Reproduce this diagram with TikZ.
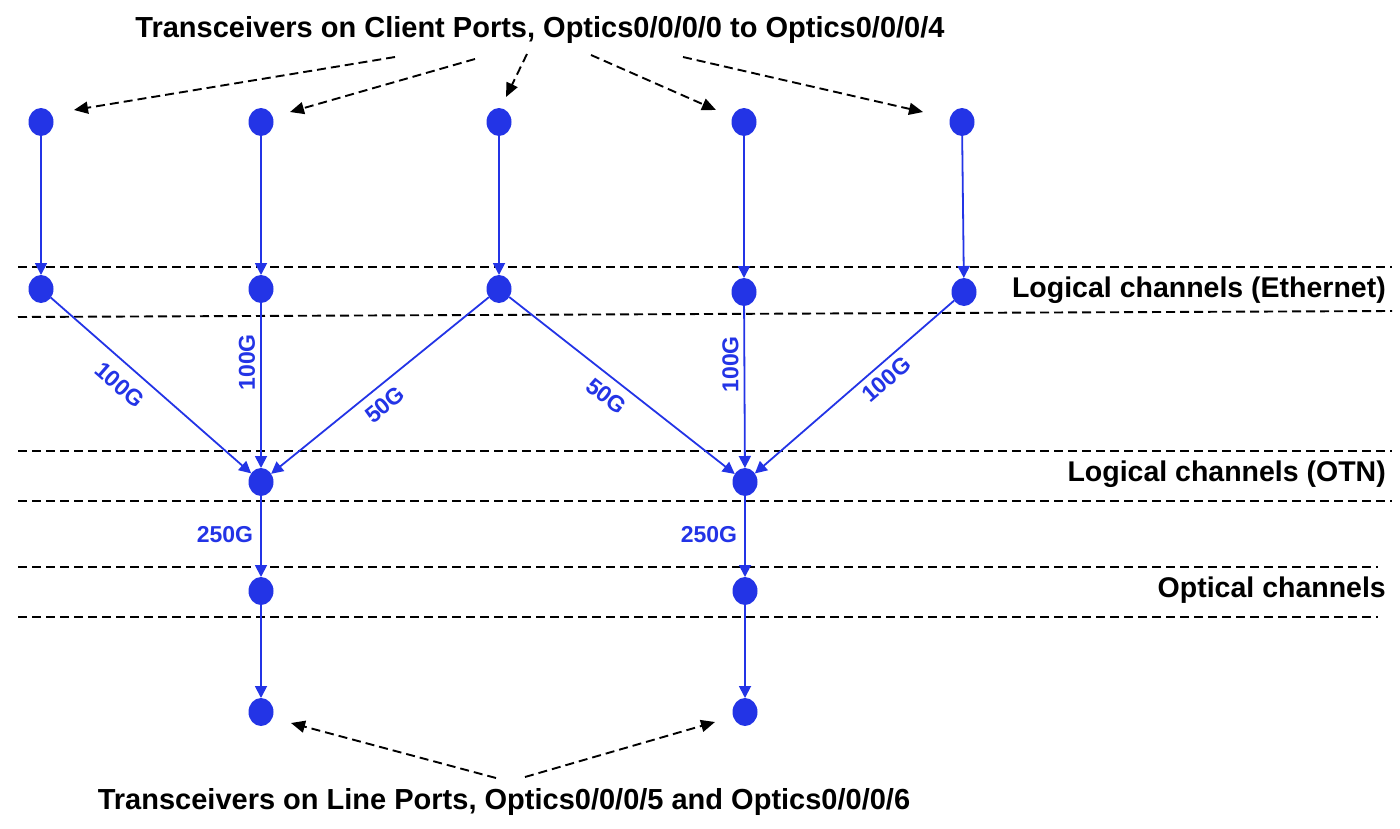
\documentclass[tikz,border=0pt]{standalone}
\usepackage{fontspec}
\setmainfont{Liberation Sans}
\usetikzlibrary{arrows.meta,shapes.geometric}
\definecolor{nblue}{RGB}{35,52,230}
\tikzset{
  dot/.style={ellipse, fill=nblue, minimum width=25pt, minimum height=28pt, inner sep=0pt, outer sep=0pt},
  flow/.style={draw=nblue, line width=1.8pt, -{Triangle[length=12pt,width=12pt]}},
  pointer/.style={draw=black, line width=1.9pt, dash pattern=on 9pt off 5pt, -{Triangle[length=14pt,width=12pt]}},
  layer/.style={draw=black, line width=1.9pt, dash pattern=on 9pt off 5pt},
  rate/.style={text=nblue, font=\bfseries\fontsize{23}{23}\selectfont, inner sep=3pt},
  title/.style={font=\bfseries\fontsize{29}{29}\selectfont, inner sep=0pt},
  layername/.style={font=\bfseries\fontsize{28.5}{28.5}\selectfont, inner sep=0pt, anchor=east}
}
\begin{document}
\begin{tikzpicture}[x=1pt, y=-1pt]
\useasboundingbox (0,0) rectangle (1400,828);
% layer separators
\draw[layer] (18,267) -- (1392,267);
\draw[layer] (18,317) -- (1392,311);
\draw[layer] (18,451) -- (1392,451);
\draw[layer] (18,501) -- (1392,501);
\draw[layer] (18,567) -- (1378,567);
\draw[layer] (18,617) -- (1378,617);
% layer names
\node[layername] (lEth) at (1386,290) {Logical channels (Ethernet)};
\node[layername] (lOTN) at (1386,474) {Logical channels (OTN)};
\node[layername] (lOpt) at (1386,590) {Optical channels};
% titles
\node[title] (tTop) at (540,30) {Transceivers on Client Ports, Optics0/0/0/0 to Optics0/0/0/4};
\node[title] (tBot) at (504,802) {Transceivers on Line Ports, Optics0/0/0/5 and Optics0/0/0/6};
% nodes
\node[dot] (c1) at (41,122) {};
\node[dot] (c2) at (261,122) {};
\node[dot] (c3) at (499,122) {};
\node[dot] (c4) at (744,122) {};
\node[dot] (c5) at (962,122) {};
\node[dot] (e1) at (41,289) {};
\node[dot] (e2) at (261,289) {};
\node[dot] (e3) at (499,289) {};
\node[dot] (e4) at (744,292) {};
\node[dot] (e5) at (964,292) {};
\node[dot] (o1) at (261,482) {};
\node[dot] (o2) at (745,482) {};
\node[dot] (p1) at (261,591) {};
\node[dot] (p2) at (745,591) {};
\node[dot] (l1) at (261,712) {};
\node[dot] (l2) at (745,712) {};
% client to ethernet
\draw[flow] (c1) -- (e1);
\draw[flow] (c2) -- (e2);
\draw[flow] (c3) -- (e3);
\draw[flow] (c4) -- (e4);
\draw[flow] (c5) -- (e5);
% ethernet to OTN
\draw[flow] (e1) -- node[rate, sloped, below, pos=0.41, outer sep=9pt] (r1) {100G} (o1);
\draw[flow] (e2) -- node[rate, rotate=90, anchor=south, pos=0.36, inner sep=5pt] (r2) {100G} (o1);
\draw[flow] (e3) -- node[rate, sloped, below, pos=0.53, outer sep=7pt] (r3) {50G} (o1);
\draw[flow] (e3) -- node[rate, sloped, below, pos=0.48, outer sep=7pt] (r4) {50G} (o2);
\draw[flow] (e4) -- node[rate, rotate=90, anchor=south, pos=0.36, inner sep=5pt] (r5) {100G} (o2);
\draw[flow] (e5) -- node[rate, sloped, below, pos=0.39, outer sep=4pt] (r6) {100G} (o2);
% OTN to optical
\draw[flow] (o1) -- node[rate, left, pos=0.48, inner sep=7pt] (r7) {250G} (p1);
\draw[flow] (o2) -- node[rate, left, pos=0.48, inner sep=7pt] (r8) {250G} (p2);
% optical to line
\draw[flow] (p1) -- (l1);
\draw[flow] (p2) -- (l2);
% annotation pointers
\coordinate (a1s) at (395,57);
\coordinate (a1e) at (74,110);
\coordinate (a2s) at (475,59);
\coordinate (a2e) at (290,112);
\coordinate (a3s) at (527,54);
\coordinate (a3e) at (506,97);
\coordinate (a4s) at (591,55);
\coordinate (a4e) at (716,110);
\coordinate (a5s) at (683,57);
\coordinate (a5e) at (923,112);
\coordinate (b1s) at (496,778);
\coordinate (b1e) at (291,723);
\coordinate (b2s) at (525,777);
\coordinate (b2e) at (715,722);
\draw[pointer] (a1s) -- (a1e);
\draw[pointer] (a2s) -- (a2e);
\draw[pointer] (a3s) -- (a3e);
\draw[pointer] (a4s) -- (a4e);
\draw[pointer] (a5s) -- (a5e);
\draw[pointer] (b1s) -- (b1e);
\draw[pointer] (b2s) -- (b2e);
\end{tikzpicture}
\end{document}
